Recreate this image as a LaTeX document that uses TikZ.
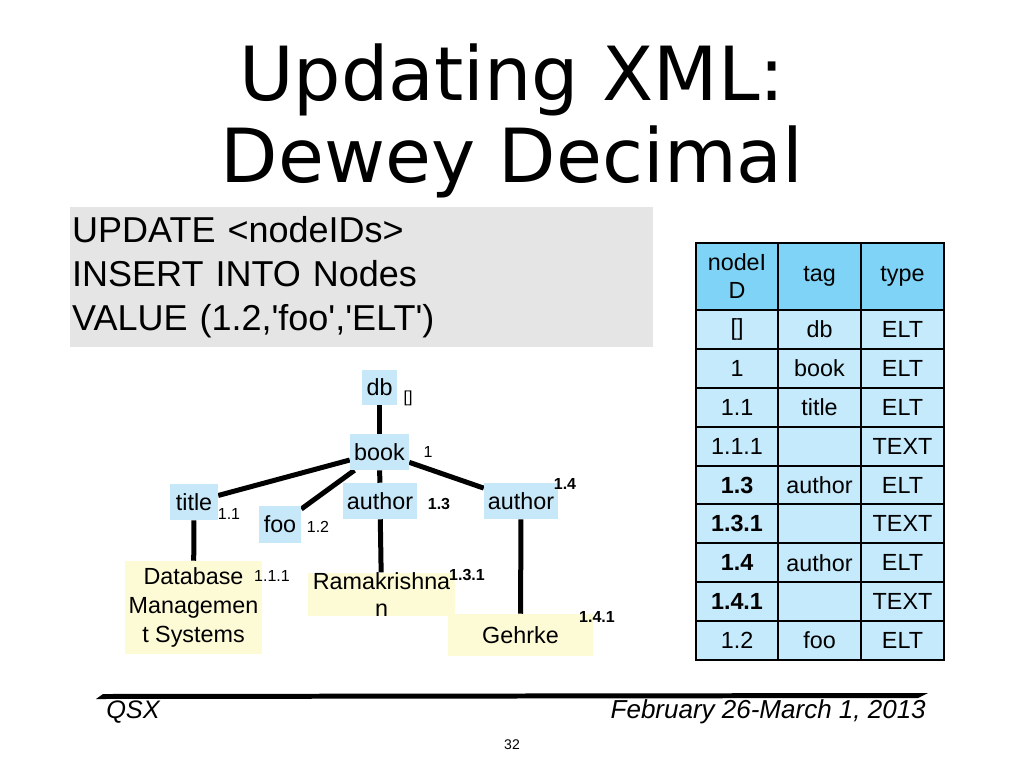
\documentclass[tikz,border=0pt]{standalone}
\usepackage{fontspec}
\setmainfont{Liberation Sans}[Ligatures=TeXOff]
\newfontfamily\titlefont{DejaVu Sans}
\usetikzlibrary{backgrounds}
\definecolor{nodeblue}{HTML}{C6E8F8}
\definecolor{leafyellow}{HTML}{FDFAD6}
\definecolor{headblue}{HTML}{7FD3F7}
\definecolor{rowblue}{HTML}{C4EAFB}
\definecolor{querygray}{HTML}{E5E5E5}

\begin{document}
\begin{tikzpicture}[x=0.75pt,y=-0.75pt,
  elem/.style={fill=nodeblue,inner sep=0pt,minimum height=27pt,font=\fontsize{17.5}{20}\selectfont},
  leaf/.style={fill=leafyellow,inner sep=0pt,align=center,font=\fontsize{17.5}{21.5}\selectfont},
  num/.style={inner sep=0pt,font=\fontsize{12}{14}\selectfont},
  link/.style={line width=3.75pt},
  cell/.style={draw,line width=1.5pt,fill=rowblue,inner sep=0pt,minimum height=29.2pt,font=\fontsize{17.5}{21}\selectfont},
  head/.style={cell,fill=headblue,minimum height=50.25pt,align=center}]
  \useasboundingbox (0,0) rectangle (1024,768);
  % title and query
  \node[align=center,font=\titlefont\fontsize{56}{61.5}\selectfont] (title) at (512,121) {Updating XML:\\Dewey Decimal};
  \node[fill=querygray,minimum width=437.25pt,minimum height=105pt,text width=434pt,inner xsep=1.5pt,align=left,
    font=\fontsize{27}{33}\selectfont] (query) at (361.5,277) {UPDATE <nodeIDs>\\INSERT INTO Nodes\\VALUE (1.2,'foo','ELT')};
  % tree
  \node[elem,minimum width=26.25pt,minimum height=26.25pt] (db) at (379.5,387.5) {db};
  \node[elem,minimum width=44.25pt] (book) at (379.5,452) {book};
  \node[elem,minimum width=36pt] (ttl) at (194,502) {title};
  \node[elem,minimum width=31.5pt,minimum height=27.75pt] (foo) at (280,524.5) {foo};
  \node[elem,minimum width=55.5pt] (auth3) at (380,501) {author};
  \node[elem,minimum width=55.5pt] (auth4) at (521,501) {author};
  \node[leaf,minimum width=102.75pt,minimum height=69.75pt] (dbms) at (193.5,607.5) {Database\\Managemen\\t Systems};
  \node[leaf,minimum width=110.25pt,minimum height=27.75pt,font=\fontsize{17.5}{20}\selectfont] (ram) at (381.5,594.5) {Ramakrishna\\n};
  \node[leaf,minimum width=108.75pt,minimum height=31.5pt] (gehrke) at (520.5,635) {Gehrke};
  \begin{scope}[on background layer]
    \draw[link] (db) -- (book);
    \draw[link] (book) -- (ttl);
    \draw[link] (book) -- (foo);
    \draw[link] (book) -- (auth3);
    \draw[link] (book) -- (auth4);
    \draw[link] (ttl) -- (dbms);
    \draw[link] (auth3) -- (ram);
    \draw[link] (auth4) -- (gehrke);
  \end{scope}
  % dewey numbers
  \node[num] (ndb) at (408,398) {[]};
  \node[num] (nbook) at (428,452) {1};
  \node[num] (nttl) at (229,514) {1.1};
  \node[num] (nfoo) at (318,527) {1.2};
  \node[num,font=\fontsize{12}{14}\bfseries] (nauth3) at (439,504) {1.3};
  \node[num,font=\fontsize{12}{14}\bfseries] (nauth4) at (565,484) {1.4};
  \node[num] (ndbms) at (272,576) {1.1.1};
  \node[num,font=\fontsize{12}{14}\bfseries] (nram) at (467,575) {1.3.1};
  \node[num,font=\fontsize{12}{14}\bfseries] (ngehrke) at (597,617) {1.4.1};
  % table
  \node[head,minimum width=61.5pt] (hid) at (737,276.5) {nodeI\\D};
  \node[head,minimum width=62.25pt] (htag) at (819.5,276.5) {tag};
  \node[head,minimum width=62.25pt] (htype) at (902.5,276.5) {type};
  \foreach \id/\tg/\ty [count=\r] in {{[]}/db/ELT, 1/book/ELT, 1.1/title/ELT, 1.1.1/{}/TEXT,
      {\bfseries 1.3}/author/ELT, {\bfseries 1.3.1}/{}/TEXT, {\bfseries 1.4}/author/ELT,
      {\bfseries 1.4.1}/{}/TEXT, 1.2/foo/ELT} {
    \node[cell,minimum width=61.5pt] (id\r) at (737,{310+38.9*(\r-0.5)}) {\id};
    \node[cell,minimum width=62.25pt] (tag\r) at (819.5,{310+38.9*(\r-0.5)}) {\tg};
    \node[cell,minimum width=62.25pt] (type\r) at (902.5,{310+38.9*(\r-0.5)}) {\ty};
  }
  % footer
  \fill (96,699) -- (103,694) -- (928,693) -- (918,698) -- cycle;
  \node[anchor=west,inner sep=0pt,font=\fontsize{19}{22}\itshape] (qsx) at (106,712) {QSX};
  \node[anchor=east,inner sep=0pt,font=\fontsize{19.5}{22}\itshape] (date) at (926,712) {February 26-March 1, 2013};
  \node[inner sep=0pt,font=\fontsize{10.5}{12}\selectfont] (page) at (512,745) {32};
\end{tikzpicture}
\end{document}
